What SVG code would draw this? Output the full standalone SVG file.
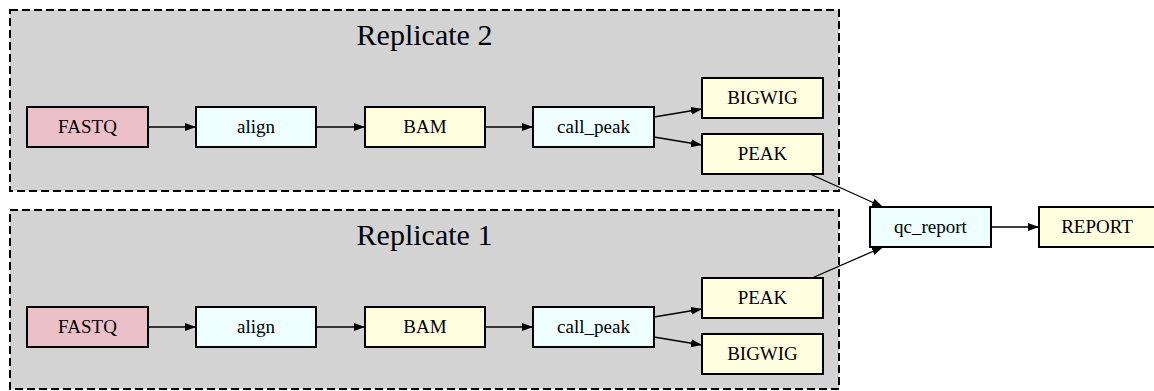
<svg xmlns="http://www.w3.org/2000/svg" width="1154" height="391" viewBox="0 0 1154 391">
<defs>
<style>
.cluster{fill:#d3d3d3;stroke:#000;stroke-width:2;stroke-dasharray:8,4}
.ctitle{font-family:'Liberation Serif','Times New Roman','DejaVu Serif',serif;font-size:30px;fill:#000;text-anchor:middle}
.n rect{stroke:#000;stroke-width:2}
.n text{font-family:'Liberation Serif','Times New Roman','DejaVu Serif',serif;font-size:19px;fill:#000;text-anchor:middle}
.data rect{fill:#ffffe0}
.proc rect{fill:#efffff}
.raw rect{fill:#ebc0c9}
.e{stroke:#000;stroke-width:1.3;fill:none;marker-end:url(#ah)}
</style>
<marker id="ah" markerUnits="userSpaceOnUse" markerWidth="12" markerHeight="9" refX="11" refY="4" orient="auto">
<path d="M0,0 L11,4 L0,8 z" fill="#000"/>
</marker>
</defs>
<rect width="1154" height="391" fill="#fff"/>
<g id="cluster_rep2">
<rect class="cluster" x="10" y="10" width="829" height="181"/>
<text class="ctitle" x="424.5" y="45" font-family="Liberation Serif, serif">Replicate 2</text>
</g>
<g id="cluster_rep1">
<rect class="cluster" x="10" y="210" width="829" height="179"/>
<text class="ctitle" x="424.5" y="245" font-family="Liberation Serif, serif">Replicate 1</text>
</g>
<g id="connectors">
<line class="e" x1="148" y1="127" x2="196" y2="127"/>
<line class="e" x1="316" y1="127" x2="365" y2="127"/>
<line class="e" x1="485" y1="127" x2="533" y2="127"/>
<line class="e" x1="654" y1="117" x2="702" y2="109"/>
<line class="e" x1="654" y1="137" x2="702" y2="145"/>
<line class="e" x1="148" y1="327" x2="196" y2="327"/>
<line class="e" x1="316" y1="327" x2="365" y2="327"/>
<line class="e" x1="485" y1="327" x2="533" y2="327"/>
<line class="e" x1="654" y1="317" x2="702" y2="309"/>
<line class="e" x1="654" y1="337" x2="702" y2="345"/>
<line class="e" x1="810" y1="174" x2="883" y2="207"/>
<line class="e" x1="812" y1="278" x2="883" y2="247"/>
<line class="e" x1="991" y1="227" x2="1039" y2="227"/>
</g>
<g id="rep2_fastq" class="n raw"><rect x="27" y="107" width="121" height="40"/><text x="87.5" y="133">FASTQ</text></g>
<g id="rep2_align" class="n proc"><rect x="196" y="107" width="120" height="40"/><text x="256" y="133">align</text></g>
<g id="rep2_bam" class="n data"><rect x="365" y="107" width="120" height="40"/><text x="425" y="133">BAM</text></g>
<g id="rep2_call_peak" class="n proc"><rect x="533" y="107" width="121" height="40"/><text x="593.5" y="133">call_peak</text></g>
<g id="rep2_bigwig" class="n data"><rect x="702" y="78" width="121" height="40"/><text x="762.5" y="104">BIGWIG</text></g>
<g id="rep2_peak" class="n data"><rect x="702" y="134" width="121" height="40"/><text x="762.5" y="160">PEAK</text></g>
<g id="rep1_fastq" class="n raw"><rect x="27" y="307" width="121" height="40"/><text x="87.5" y="333">FASTQ</text></g>
<g id="rep1_align" class="n proc"><rect x="196" y="307" width="120" height="40"/><text x="256" y="333">align</text></g>
<g id="rep1_bam" class="n data"><rect x="365" y="307" width="120" height="40"/><text x="425" y="333">BAM</text></g>
<g id="rep1_call_peak" class="n proc"><rect x="533" y="307" width="121" height="40"/><text x="593.5" y="333">call_peak</text></g>
<g id="rep1_peak" class="n data"><rect x="702" y="278" width="121" height="40"/><text x="762.5" y="304">PEAK</text></g>
<g id="rep1_bigwig" class="n data"><rect x="702" y="334" width="121" height="40"/><text x="762.5" y="360">BIGWIG</text></g>
<g id="qc_report" class="n proc"><rect x="870" y="207" width="121" height="40"/><text x="930.5" y="233">qc_report</text></g>
<g id="report" class="n data"><rect x="1039" y="207" width="121" height="40"/><text x="1097" y="233">REPORT</text></g>
</svg>
